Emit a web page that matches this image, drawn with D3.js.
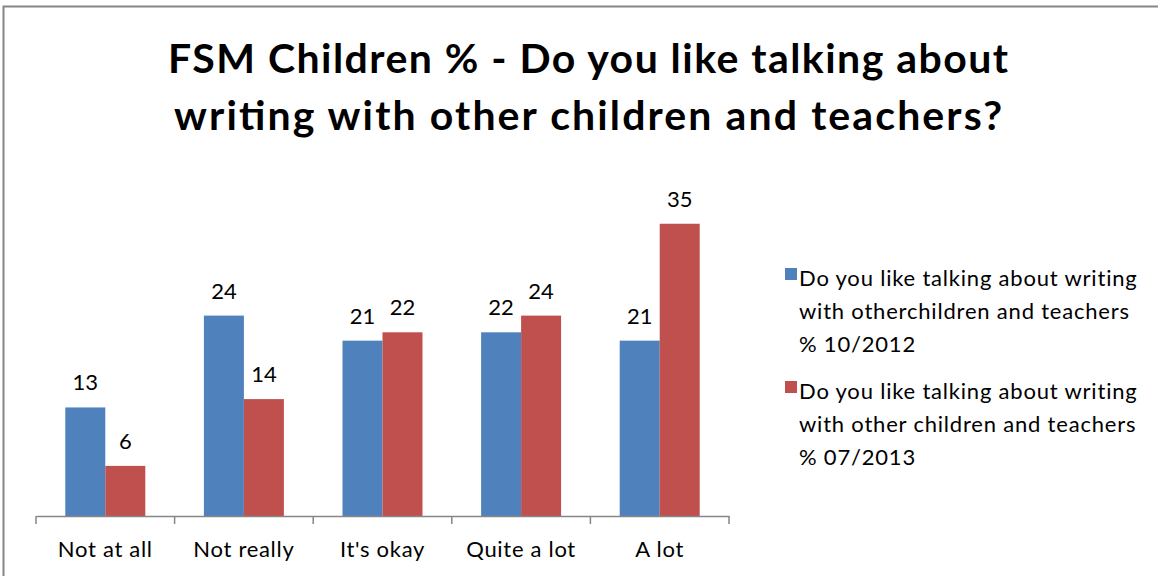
<!DOCTYPE html>
<html><head><meta charset="utf-8">
<script src="https://cdn.jsdelivr.net/npm/d3@7"></script>
<style>body{margin:0;background:#fff;} svg{display:block;}</style>
</head><body>
<svg id="c" width="1158" height="576"></svg>
<script>
const categories = ["Not at all", "Not really", "It's okay", "Quite a lot", "A lot"];
const series2012 = [13, 24, 21, 22, 21];
const series2013 = [6, 14, 22, 24, 35];
const seriesNames = [
  ["Do you like talking about writing", "with otherchildren and teachers", "% 10/2012"],
  ["Do you like talking about writing", "with other children and teachers", "%  07/2013"]
];
const titleLines = ["FSM Children % - Do you like talking about", "writing with other children and teachers?"];
const colors = ["#4F81BD", "#C0504D"];

const svg = d3.select("#c");
const font = "Lato, 'Open Sans', sans-serif";

svg.append("path").attr("d","M3.5,576 V6.5 H1158").attr("fill","none").attr("stroke","#868686").attr("stroke-width",2);

const titleWidths = [840, 828];
svg.selectAll("text.title").data(titleLines).enter().append("text")
  .attr("x",588).attr("y",(d,i)=>73+i*57).attr("text-anchor","middle")
  .attr("font-family",font).attr("font-weight","bold").attr("font-size",41).attr("fill","#000")
  .attr("textLength",(d,i)=>titleWidths[i]).attr("lengthAdjust","spacing")
  .text(d=>d);

const x0 = d3.scaleBand().domain(categories).range([36,729]).paddingInner(0).paddingOuter(0);
const x1 = d3.scaleBand().domain([0,1]).range([0,80]);
const y = d3.scaleLinear().domain([0,40]).range([516,182]);

const data = categories.map((c,i)=>({c, v:[series2012[i], series2013[i]]}));
const g = svg.append("g");
const groups = g.selectAll("g.grp").data(data).enter().append("g")
  .attr("transform", d=>`translate(${x0(d.c)+(x0.bandwidth()-80)/2},0)`);
groups.selectAll("rect").data(d=>d.v).enter().append("rect")
  .attr("x",(d,i)=>x1(i)).attr("width",x1.bandwidth())
  .attr("y",d=>y(d)).attr("height",d=>y(0)-y(d)).attr("fill",(d,i)=>colors[i]);
groups.selectAll("text").data(d=>d.v).enter().append("text")
  .attr("x",(d,i)=>x1(i)+x1.bandwidth()/2).attr("y",d=>y(d)-17)
  .attr("text-anchor","middle").attr("font-family",font).attr("font-size",22).attr("fill","#000")
  .text(d=>d);

const axis = svg.append("g").attr("transform","translate(0,516)")
  .call(d3.axisBottom(x0).tickSize(0).tickPadding(0));
axis.select(".domain").attr("stroke","#868686").attr("stroke-width",1.5);
axis.selectAll(".tick text").attr("y",41).attr("dy",0).attr("font-family",font).attr("font-size",22)
  .attr("letter-spacing",0.7).attr("fill","#000");
const tickPos = categories.map(c=>x0(c)).concat([x0.range()[1]]);
axis.selectAll("line.tk").data(tickPos).enter().append("line").attr("class","tk")
  .attr("x1",d=>d).attr("x2",d=>d).attr("y1",0).attr("y2",8).attr("stroke","#868686").attr("stroke-width",1.5);

const leg = svg.append("g");
const lg = leg.selectAll("g").data(seriesNames).enter().append("g")
  .attr("transform",(d,i)=>`translate(785,${268+i*113})`);
lg.append("rect").attr("width",12).attr("height",12).attr("fill",(d,i)=>colors[i]);
lg.each(function(d){
  const t = d3.select(this).append("text").attr("font-family",font).attr("font-size",22)
    .attr("letter-spacing",0.8).attr("fill","#000");
  t.selectAll("tspan").data(d).enter().append("tspan").attr("x",14).attr("y",(l,j)=>18+j*33).text(l=>l);
});
</script>
</body></html>
